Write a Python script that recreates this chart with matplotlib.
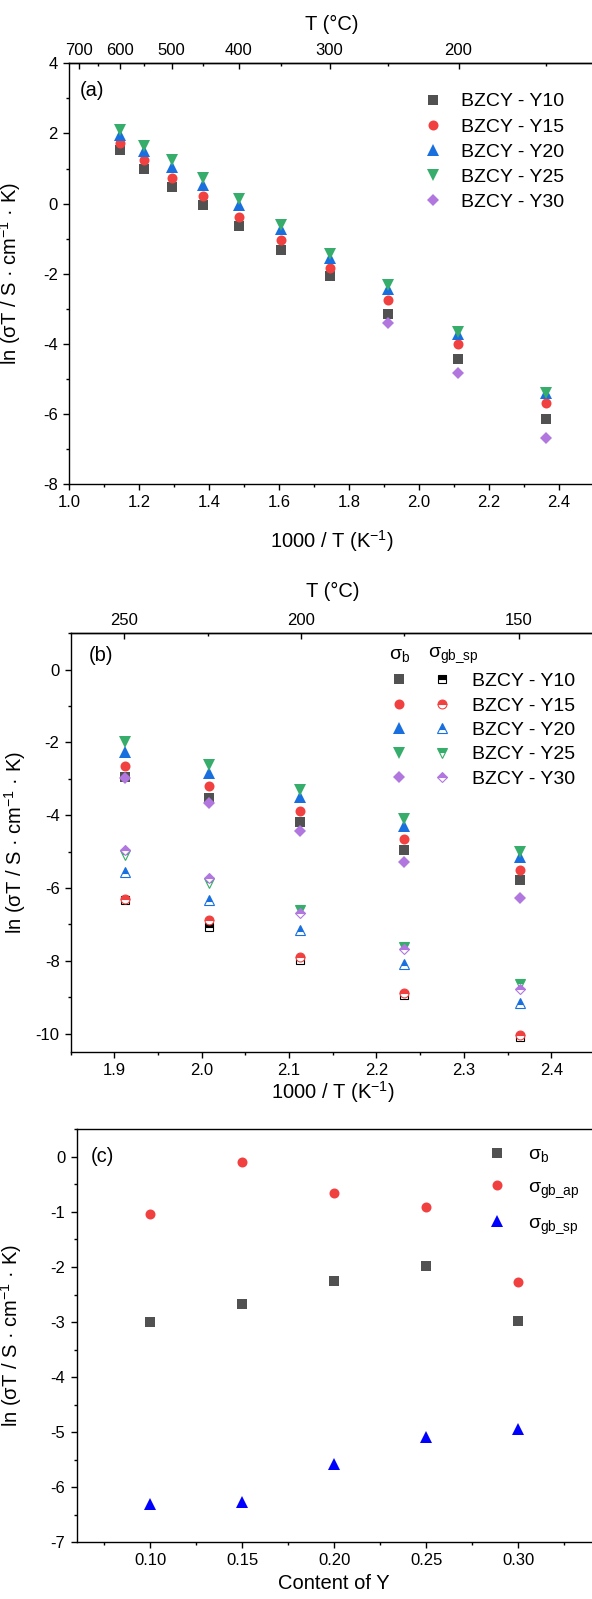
import numpy as np
import matplotlib
matplotlib.use("Agg")
import matplotlib.pyplot as plt
from matplotlib.ticker import MultipleLocator, FixedLocator, FormatStrFormatter
from matplotlib.legend_handler import HandlerTuple

plt.rcParams['font.family'] = ['Liberation Sans', 'DejaVu Sans']
plt.rcParams['mathtext.default'] = 'regular'
plt.rcParams['axes.unicode_minus'] = False
plt.rcParams['axes.linewidth'] = 1.0

# ---------------- data ----------------
# panel (a): 1000/T for 600 ... 150 degC
x_a = [1.145, 1.215, 1.293, 1.383, 1.486, 1.605, 1.745, 1.912, 2.113, 2.363]
a_y10 = [1.52, 1.00, 0.47, -0.05, -0.65, -1.31, -2.07, -3.15, -4.43, -6.13]
a_y15 = [1.74, 1.23, 0.74, 0.21, -0.38, -1.05, -1.83, -2.74, -4.01, -5.67]
a_y20 = [1.95, 1.49, 1.04, 0.54, -0.03, -0.71, -1.54, -2.42, -3.72, -5.41]
a_y25 = [2.09, 1.64, 1.23, 0.73, 0.14, -0.62, -1.44, -2.31, -3.66, -5.39]
x_a30 = [1.912, 2.113, 2.363]
a_y30 = [-3.40, -4.84, -6.69]

# panel (b): 1000/T for 250 ... 150 degC
x_b = [1.912, 2.008, 2.113, 2.232, 2.364]
b_bulk = {
    'BZCY - Y10': [-2.96, -3.52, -4.19, -4.95, -5.79],
    'BZCY - Y15': [-2.65, -3.21, -3.88, -4.65, -5.50],
    'BZCY - Y20': [-2.25, -2.85, -3.50, -4.31, -5.15],
    'BZCY - Y25': [-1.98, -2.62, -3.30, -4.11, -5.00],
    'BZCY - Y30': [-2.98, -3.66, -4.43, -5.28, -6.27],
}
b_gbsp = {
    'BZCY - Y10': [-6.33, -7.07, -7.98, -8.94, -10.09],
    'BZCY - Y15': [-6.30, -6.87, -7.89, -8.88, -10.04],
    'BZCY - Y20': [-5.57, -6.32, -7.16, -8.10, -9.15],
    'BZCY - Y25': [-5.09, -5.85, -6.61, -7.62, -8.63],
    'BZCY - Y30': [-4.95, -5.73, -6.68, -7.69, -8.77],
}

# panel (c): Y content at 250 degC
y_content = [0.10, 0.15, 0.20, 0.25, 0.30]
c_b = [-3.00, -2.67, -2.25, -1.99, -2.99]
c_gbap = [-1.04, -0.10, -0.66, -0.92, -2.27]
c_gbsp = [-6.30, -6.27, -5.58, -5.08, -4.95]

names = ['BZCY - Y10', 'BZCY - Y15', 'BZCY - Y20', 'BZCY - Y25', 'BZCY - Y30']
colors = ['#515151', '#F14040', '#1A6FDF', '#37AD6B', '#B177DE']
markers = ['s', 'o', '^', 'v', 'D']
msizes = [6.7, 7.2, 8.0, 8.0, 6.4]

YLAB = 'ln (σT / S · cm$^{-1}$ · K)'
TICK_FS = 12
LAB_FS = 14.5
LEG_FS = 14


def style_axis(ax):
    ax.spines['right'].set_visible(False)
    ax.tick_params(which='both', direction='out', top=False, right=False,
                   labelsize=TICK_FS, width=1.0)
    ax.tick_params(which='major', length=4.5)
    ax.tick_params(which='minor', length=2.5)


def k2c(x):
    x = np.asarray(x, dtype=float)
    with np.errstate(divide='ignore', invalid='ignore'):
        return 1000.0 / x - 273.15


def c2k(t):
    t = np.asarray(t, dtype=float)
    with np.errstate(divide='ignore', invalid='ignore'):
        return 1000.0 / (t + 273.15)


def top_axis(ax, major, minor, pad):
    sec = ax.secondary_xaxis('top', functions=(k2c, c2k))
    sec.xaxis.set_major_locator(FixedLocator(major))
    sec.xaxis.set_minor_locator(FixedLocator(minor))
    sec.xaxis.set_major_formatter(FormatStrFormatter('%d'))
    sec.tick_params(which='both', direction='in', labelsize=TICK_FS, width=1.0, pad=4)
    sec.tick_params(which='major', length=4.5)
    sec.tick_params(which='minor', length=2.5)
    sec.set_xlabel('T (°C)', fontsize=LAB_FS, labelpad=pad)
    return sec


fig = plt.figure(figsize=(5.92, 15.99), dpi=100)
W, H = 592.0, 1599.0

# ---------------- panel (a) ----------------
ax1 = fig.add_axes([69.1 / W, 1 - 484.3 / H, 524.6 / W, 421.0 / H])
ys_a = [a_y10, a_y15, a_y20, a_y25]
for i in range(4):
    ax1.plot(x_a, ys_a[i], linestyle='none', marker=markers[i], ms=msizes[i],
             color=colors[i], mew=0, label=names[i])
ax1.plot(x_a30, a_y30, linestyle='none', marker=markers[4], ms=msizes[4],
         color=colors[4], mew=0, label=names[4])
ax1.set_xlim(1.0, 2.5)
ax1.set_ylim(-8, 4)
ax1.xaxis.set_major_locator(MultipleLocator(0.2))
ax1.xaxis.set_minor_locator(MultipleLocator(0.1))
ax1.xaxis.set_major_formatter(FormatStrFormatter('%.1f'))
ax1.yaxis.set_major_locator(MultipleLocator(2))
ax1.yaxis.set_minor_locator(MultipleLocator(1))
style_axis(ax1)
ax1.set_xlabel('1000 / T (K$^{-1}$)', fontsize=LAB_FS, labelpad=13)
ax1.set_ylabel(YLAB, fontsize=LAB_FS)
ax1.yaxis.set_label_coords(-0.088, 0.5)
top_axis(ax1, [700, 600, 500, 400, 300, 200], [650, 550, 450, 350, 250, 150], 9.5)
ax1.text(0.02, 0.935, '(a)', transform=ax1.transAxes, fontsize=LAB_FS,
         ha='left', va='center')
ax1.legend(loc='upper left', bbox_to_anchor=(0.675, 0.93), frameon=False,
           fontsize=LEG_FS, handlelength=1.0, handletextpad=0.96,
           labelspacing=0.39, borderpad=0, borderaxespad=0, numpoints=1)

# ---------------- panel (b) ----------------
ax2 = fig.add_axes([70.7 / W, 1 - 1051.7 / H, 524.2 / W, 418.4 / H])
h_full, h_half = [], []
for i, n in enumerate(names):
    l1, = ax2.plot(x_b, b_bulk[n], linestyle='none', marker=markers[i], ms=msizes[i],
                   color=colors[i], mew=0)
    h_full.append(l1)
for i, n in enumerate(names):
    ec = 'black' if i == 0 else colors[i]
    l2, = ax2.plot(x_b, b_gbsp[n], linestyle='none', marker=markers[i], ms=msizes[i] - 0.8,
                   markerfacecolor=ec, markerfacecoloralt='white', markeredgecolor=ec,
                   fillstyle='top', mew=0.8)
    h_half.append(l2)
ax2.set_xlim(1.85, 2.45)
ax2.set_ylim(-10.5, 1)
ax2.xaxis.set_major_locator(MultipleLocator(0.1))
ax2.xaxis.set_minor_locator(MultipleLocator(0.05))
ax2.xaxis.set_major_formatter(FormatStrFormatter('%.1f'))
ax2.yaxis.set_major_locator(MultipleLocator(2))
ax2.yaxis.set_minor_locator(MultipleLocator(1))
style_axis(ax2)
ax2.set_xlabel('1000 / T (K$^{-1}$)', fontsize=LAB_FS, labelpad=1)
ax2.set_ylabel(YLAB, fontsize=LAB_FS)
ax2.yaxis.set_label_coords(-0.081, 0.5)
top_axis(ax2, [250, 200, 150], [225, 175], 11)
ax2.text(0.035, 0.948, '(b)', transform=ax2.transAxes, fontsize=LAB_FS,
         ha='left', va='center')
ax2.text(0.627, 0.948, '$σ_b$', transform=ax2.transAxes, fontsize=LEG_FS,
         ha='center', va='center')
ax2.text(0.682, 0.948, '$σ_{gb\\_sp}$', transform=ax2.transAxes, fontsize=LEG_FS,
         ha='left', va='center')
ax2.legend([(f, h) for f, h in zip(h_full, h_half)], names,
           handler_map={tuple: HandlerTuple(ndivide=None, pad=1.42)},
           loc='upper left', bbox_to_anchor=(0.612, 0.906), frameon=False,
           fontsize=LEG_FS, handlelength=3.0, handletextpad=1.13,
           labelspacing=0.35, borderpad=0, borderaxespad=0, numpoints=1)

# ---------------- panel (c) ----------------
ax3 = fig.add_axes([76.6 / W, 1 - 1542.3 / H, 515.4 / W, 413.0 / H])
ax3.plot(y_content, c_b, linestyle='none', marker='s', ms=6.7, color='#515151',
         mew=0, label='$σ_b$')
ax3.plot(y_content, c_gbap, linestyle='none', marker='o', ms=7.2, color='#F14040',
         mew=0, label='$σ_{gb\\_ap}$')
ax3.plot(y_content, c_gbsp, linestyle='none', marker='^', ms=8.0, color='#0000FF',
         mew=0, label='$σ_{gb\\_sp}$')
ax3.set_xlim(0.06, 0.34)
ax3.set_ylim(-7, 0.5)
ax3.xaxis.set_major_locator(MultipleLocator(0.05))
ax3.xaxis.set_minor_locator(MultipleLocator(0.025))
ax3.xaxis.set_major_formatter(FormatStrFormatter('%.2f'))
ax3.yaxis.set_major_locator(MultipleLocator(1))
ax3.yaxis.set_minor_locator(MultipleLocator(0.5))
style_axis(ax3)
ax3.set_xlabel('Content of Y', fontsize=LAB_FS, labelpad=4)
ax3.set_ylabel(YLAB, fontsize=LAB_FS)
ax3.yaxis.set_label_coords(-0.102, 0.5)
ax3.text(0.028, 0.935, '(c)', transform=ax3.transAxes, fontsize=LAB_FS,
         ha='left', va='center')
ax3.legend(loc='upper left', bbox_to_anchor=(0.7966, 0.960), frameon=False,
           fontsize=LEG_FS, handlelength=1.0, handletextpad=1.1,
           labelspacing=0.73, borderpad=0, borderaxespad=0, numpoints=1)

fig.savefig('out.png', dpi=100)
